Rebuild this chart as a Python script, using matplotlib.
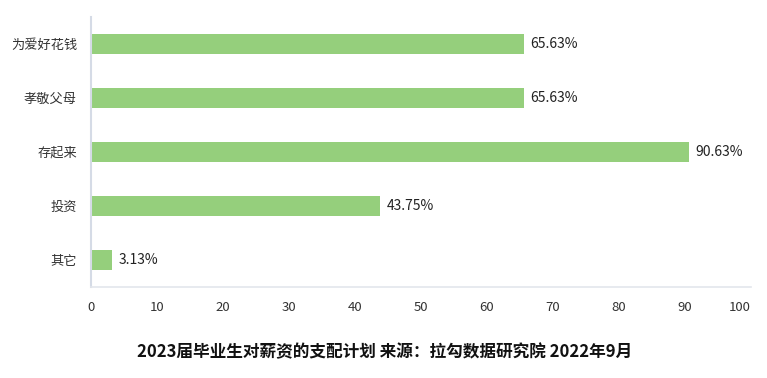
import matplotlib.pyplot as plt

plt.rcParams['font.family'] = ['Noto Sans CJK SC', 'DejaVu Sans']

# Data
categories = ["为爱好花钱", "孝敬父母", "存起来", "投资", "其它"]
values = [65.63, 65.63, 90.63, 43.75, 3.13]
value_labels = ["65.63%", "65.63%", "90.63%", "43.75%", "3.13%"]
xticks = [0, 10, 20, 30, 40, 50, 60, 70, 80, 90, 100]

fig = plt.figure(figsize=(7.67, 3.78), dpi=100)
ax = fig.add_axes([0.1186, 0.241, 0.8605, 0.714])

ypos = list(range(len(categories)))
ax.barh(ypos, values, height=0.37, color="#95cf7c")
for y, v, lab in zip(ypos, values, value_labels):
    ax.text(v + 1.0, y, lab, va="center", ha="left", fontsize=10, color="#222222")

ax.set_yticks(ypos)
ax.set_yticklabels(categories, fontsize=9.5, color="#333333")
ax.set_ylim(len(categories) - 0.5, -0.5)
ax.set_xlim(0, 100)
ax.set_xticks(xticks)
ax.set_xticklabels([str(t) for t in xticks], fontsize=9.5, color="#333333")
# last label kept inside the figure, as in the original
ax.get_xticklabels()[-1].set_horizontalalignment("right")
ax.tick_params(axis="both", length=0)
ax.tick_params(axis="x", pad=10)
ax.tick_params(axis="y", pad=10)

for s in ["top", "right"]:
    ax.spines[s].set_visible(False)
ax.spines["left"].set_color("#d5dbe6")
ax.spines["left"].set_linewidth(1.5)
ax.spines["bottom"].set_color("#e3e6ec")
ax.spines["bottom"].set_linewidth(1.2)

fig.text(0.502, 0.068, "2023届毕业生对薪资的支配计划 来源：拉勾数据研究院 2022年9月",
         ha="center", va="center", fontsize=12, fontweight="bold", color="#111111")

plt.savefig("out.png", dpi=100)
